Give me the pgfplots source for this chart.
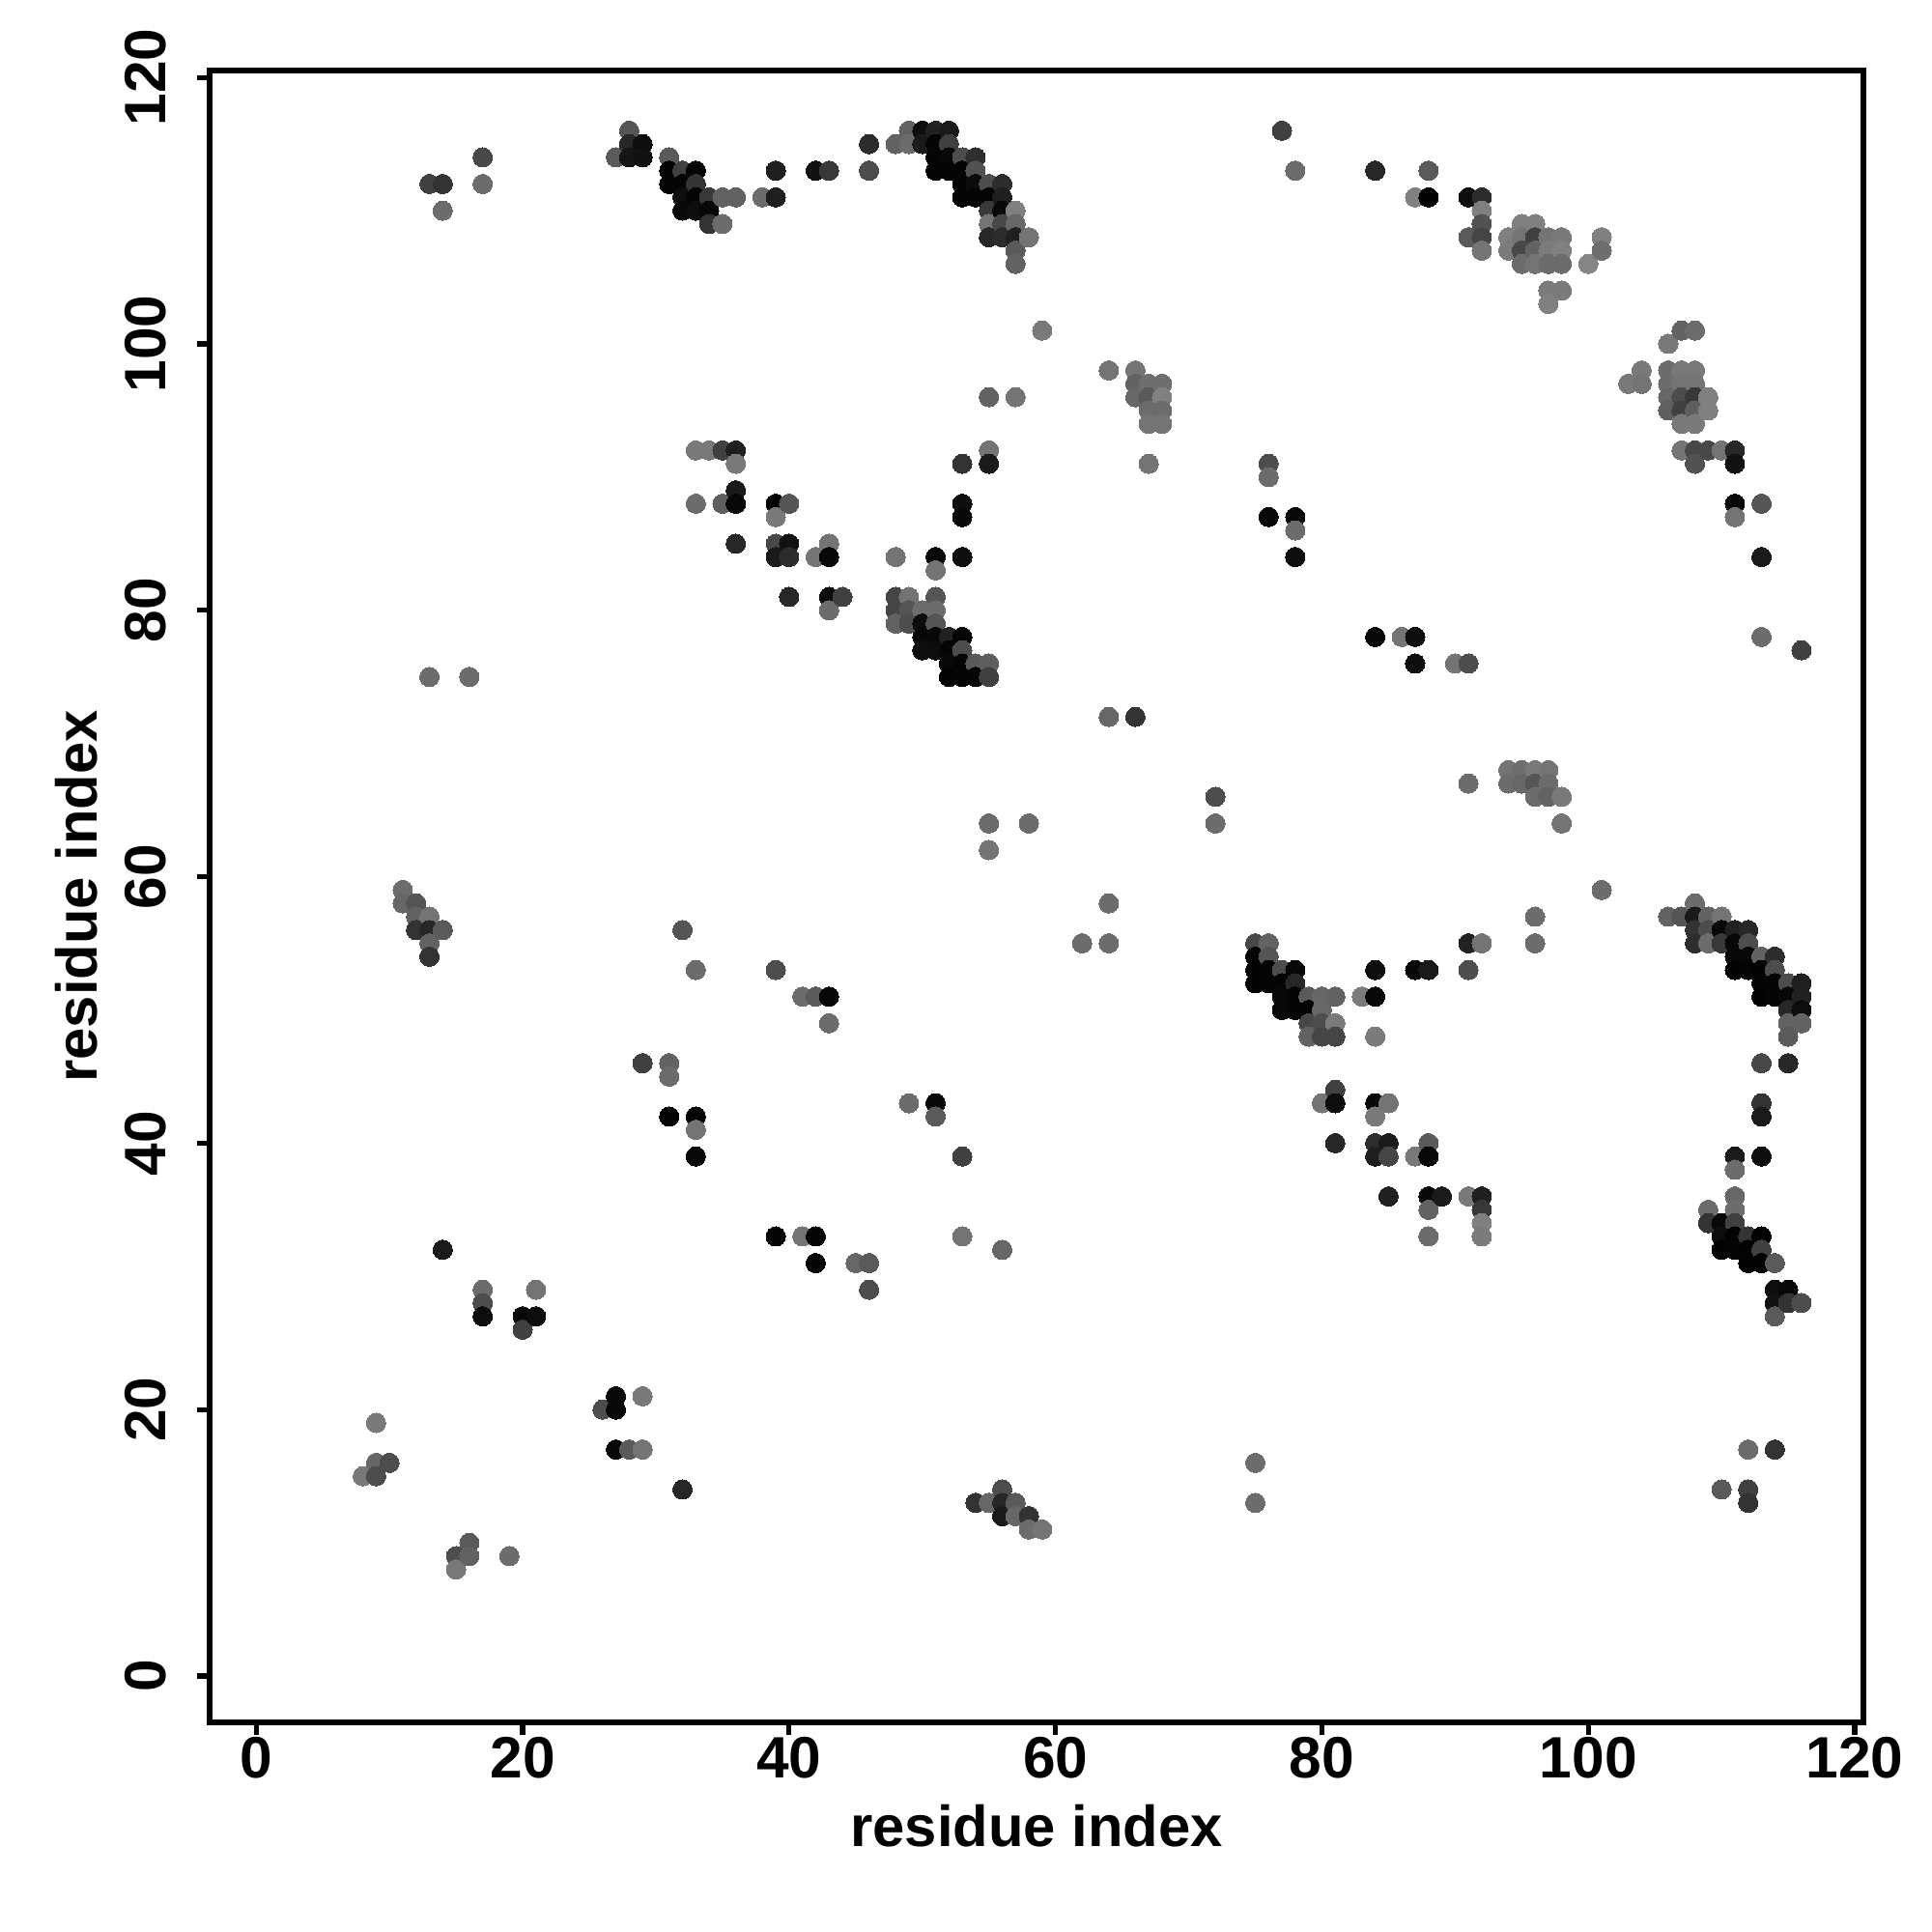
\documentclass[border=0pt]{standalone}
\usepackage{pgfplots}
\usepackage{pgfplotstable}
\usepackage{fontspec}
\setmainfont{Liberation Sans}
\pgfplotsset{compat=1.18}
\pgfplotstableread{
x y g
8 15 .47
9 19 .47
9 16 .40
9 15 .30
10 16 .30
11 59 .42
11 58 .40
12 58 .33
12 57 .38
12 56 .20
13 57 .45
13 56 .15
13 55 .38
13 54 .20
13 112 .25
13 75 .42
14 112 .20
14 110 .42
14 56 .35
14 32 .10
15 9 .30
15 8 .47
16 75 .42
16 10 .35
16 9 .38
17 114 .28
17 112 .42
17 29 .42
17 28 .30
17 27 .05
19 9 .42
20 27 .03
20 26 .25
21 29 .45
21 27 .05
26 20 .30
27 114 .35
27 21 .03
27 20 .03
27 17 .03
28 116 .33
28 115 .15
28 114 .08
28 17 .35
29 115 .05
29 114 .07
29 46 .25
29 21 .47
29 17 .45
31 114 .35
31 113 .02
31 112 .02
31 46 .38
31 45 .42
31 42 .02
32 113 .25
32 112 .02
32 111 .05
32 110 .03
32 56 .33
32 14 .15
33 113 .02
33 112 .20
33 111 .02
33 110 .05
33 92 .47
33 88 .42
33 53 .42
33 42 .02
33 41 .45
33 39 .03
34 111 .22
34 110 .03
34 109 .20
34 92 .47
35 111 .38
35 109 .42
35 92 .25
35 88 .37
36 111 .38
36 92 .12
36 91 .47
36 89 .10
36 88 .03
36 85 .15
38 111 .42
39 113 .12
39 111 .12
39 88 .02
39 87 .47
39 85 .28
39 84 .10
39 53 .30
39 33 .02
40 88 .33
40 85 .07
40 84 .17
40 81 .15
41 51 .42
41 33 .45
42 113 .07
42 84 .45
42 51 .35
42 33 .02
42 31 .02
43 113 .22
43 85 .45
43 84 .03
43 81 .05
43 80 .42
43 51 .03
43 49 .42
44 81 .25
45 31 .40
46 115 .17
46 113 .30
46 31 .35
46 29 .30
48 115 .38
48 84 .45
48 81 .27
48 80 .27
48 79 .38
49 116 .38
49 115 .42
49 81 .45
49 80 .33
49 79 .30
49 43 .42
50 116 .05
50 115 .10
50 80 .42
50 79 .05
50 78 .03
50 77 .05
51 116 .13
51 115 .02
51 114 .02
51 113 .02
51 84 .03
51 83 .45
51 81 .33
51 80 .42
51 79 .33
51 78 .03
51 77 .05
51 43 .03
51 42 .35
52 116 .10
52 115 .25
52 114 .03
52 113 .02
52 78 .13
52 77 .02
52 76 .03
52 75 .01
53 114 .30
53 113 .02
53 112 .02
53 111 .02
53 91 .20
53 88 .05
53 87 .03
53 84 .05
53 78 .02
53 77 .30
53 76 .02
53 75 .02
53 39 .25
53 33 .45
54 114 .18
54 113 .32
54 112 .05
54 111 .02
54 76 .35
54 75 .02
54 13 .20
55 112 .30
55 111 .02
55 110 .22
55 109 .45
55 108 .15
55 96 .38
55 92 .45
55 91 .10
55 76 .37
55 75 .25
55 64 .42
55 62 .45
55 13 .40
56 112 .17
56 111 .12
56 110 .03
56 109 .28
56 108 .17
56 32 .40
56 14 .30
56 13 .15
56 12 .10
57 110 .50
57 109 .40
57 108 .12
57 107 .35
57 106 .38
57 96 .45
57 13 .35
57 12 .40
58 108 .45
58 64 .42
58 12 .20
58 11 .42
59 101 .47
59 11 .45
62 55 .42
64 98 .45
64 72 .40
64 58 .42
64 55 .42
66 98 .45
66 97 .38
66 96 .40
66 72 .20
67 97 .43
67 96 .35
67 95 .42
67 94 .45
67 91 .45
68 97 .43
68 96 .50
68 95 .42
68 94 .45
72 66 .30
72 64 .42
75 55 .28
75 54 .02
75 53 .01
75 52 .01
75 16 .42
75 13 .42
76 91 .30
76 90 .42
76 87 .03
76 55 .38
76 54 .33
76 53 .02
76 52 .02
77 116 .25
77 53 .30
77 52 .02
77 51 .03
77 50 .03
78 113 .42
78 87 .03
78 86 .42
78 84 .05
78 53 .03
78 52 .15
78 51 .02
78 50 .02
79 51 .35
79 50 .02
79 49 .28
79 48 .38
80 51 .40
80 50 .40
80 49 .30
80 48 .27
80 43 .45
81 51 .38
81 49 .48
81 48 .27
81 44 .25
81 43 .05
81 40 .15
83 51 .48
84 113 .15
84 78 .03
84 53 .05
84 51 .03
84 48 .48
84 43 .03
84 42 .47
84 40 .18
84 39 .12
85 43 .45
85 40 .10
85 39 .27
85 36 .13
86 78 .45
87 111 .50
87 78 .05
87 76 .05
87 53 .03
87 39 .47
88 113 .35
88 111 .01
88 53 .10
88 40 .35
88 39 .03
88 36 .03
88 35 .38
88 33 .42
89 36 .10
90 76 .45
91 111 .05
91 108 .35
91 76 .30
91 67 .42
91 55 .13
91 53 .30
91 36 .47
92 111 .17
92 110 .50
92 109 .32
92 108 .27
92 107 .45
92 55 .45
92 36 .12
92 35 .22
92 34 .50
92 33 .48
94 108 .50
94 107 .48
94 68 .45
94 67 .42
95 109 .50
95 108 .45
95 107 .28
95 106 .42
95 68 .43
95 67 .40
96 109 .50
96 108 .25
96 107 .38
96 106 .45
96 68 .47
96 67 .33
96 66 .42
96 57 .42
96 55 .42
97 108 .45
97 107 .48
97 106 .42
97 104 .48
97 103 .50
97 68 .45
97 67 .42
97 66 .38
98 108 .47
98 107 .50
98 106 .42
98 104 .48
98 66 .47
98 64 .45
100 106 .52
101 108 .50
101 107 .43
101 59 .42
103 97 .47
104 98 .47
104 97 .45
106 100 .47
106 98 .42
106 97 .42
106 96 .40
106 95 .37
106 57 .38
107 101 .38
107 98 .47
107 97 .45
107 96 .30
107 95 .25
107 94 .47
107 92 .45
107 57 .33
108 101 .42
108 98 .47
108 97 .45
108 96 .22
108 95 .37
108 94 .47
108 92 .28
108 91 .32
108 58 .42
108 57 .10
108 56 .20
108 55 .18
109 96 .50
109 95 .50
109 92 .28
109 57 .38
109 56 .30
109 55 .42
109 35 .42
109 34 .20
110 92 .45
110 57 .45
110 56 .03
110 55 .22
110 34 .03
110 33 .05
110 32 .01
110 14 .35
111 92 .15
111 91 .07
111 88 .03
111 87 .45
111 56 .13
111 55 .03
111 54 .03
111 53 .01
111 39 .10
111 38 .42
111 36 .40
111 35 .42
111 34 .25
111 33 .01
111 32 .02
112 56 .15
112 55 .30
112 54 .03
112 53 .02
112 33 .20
112 32 .01
112 31 .01
112 17 .42
112 14 .25
112 13 .20
113 88 .33
113 84 .10
113 78 .42
113 54 .38
113 53 .01
113 52 .02
113 51 .01
113 46 .28
113 43 .20
113 42 .10
113 39 .05
113 33 .01
113 32 .25
113 31 .01
114 54 .17
114 53 .30
114 52 .02
114 51 .02
114 31 .35
114 29 .05
114 28 .07
114 27 .35
114 17 .20
115 52 .30
115 51 .03
115 50 .15
115 49 .38
115 48 .35
115 46 .15
115 29 .03
115 28 .20
116 77 .25
116 52 .12
116 51 .13
116 50 .05
116 49 .38
116 28 .30
}\contacts
\begin{document}
\begin{tikzpicture}
\useasboundingbox (0,0) rectangle (20cm,20cm);
\begin{axis}[
  at={(2.17cm,2.17cm)}, anchor=south west,
  scale only axis, width=17.12cm, height=17.10cm,
  xmin=-3.5, xmax=120.65, ymin=-3.48, ymax=120.52,
  xtick={0,20,...,120}, ytick={0,20,...,120},
  axis line style={line width=1.5pt},
  every tick/.style={line width=1.5pt,black},
  tick align=outside, tick pos=left,
  major tick length=0.13cm,
  /pgf/number format/assume math mode=true,
  tick label style={font=\fontsize{17.2}{20}\selectfont\bfseries},
  yticklabel style={rotate=90,anchor=center,yshift=0.53cm},
  xticklabel style={anchor=center,yshift=-0.24cm},
  xlabel={residue index}, ylabel={residue index},
  label style={font=\fontsize{17}{20}\selectfont\bfseries},
  xlabel style={at={(axis description cs:0.5,0)},anchor=center,yshift=-1.07cm},
  ylabel style={at={(axis description cs:0,0.5)},anchor=center,yshift=1.38cm},
  colormap={g}{color=(black) color=(white)},
  point meta min=0, point meta max=1,
  clip=false,
]
\addplot[scatter, only marks, mark=*, mark size=2.85pt,
  scatter src=explicit,
  scatter/use mapped color={draw=mapped color, fill=mapped color},
  mark options={line width=0pt}]
  table[x=x,y=y,meta=g] {\contacts};
\end{axis}
\end{tikzpicture}
\end{document}
